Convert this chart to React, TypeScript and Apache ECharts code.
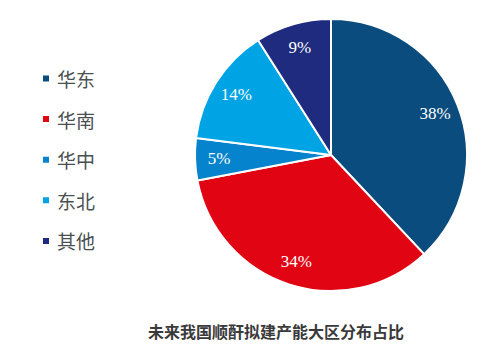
import React, { useEffect, useRef } from "react";
import * as echarts from "echarts";

const categories = ["华东", "华南", "华中", "东北", "其他"];
const shares = [38, 34, 5, 14, 9];
const colors = ["#0A4C7E", "#E10514", "#0583CC", "#00A3E4", "#1E2B7E"];
const title = "未来我国顺酐拟建产能大区分布占比";

export default function App() {
  const ref = useRef<HTMLDivElement>(null);
  useEffect(() => {
    const chart = echarts.init(ref.current!, null, { renderer: "svg" });
    const data = categories.map((name, i) => ({
      name,
      value: shares[i],
      itemStyle: { color: colors[i] },
    }));
    chart.setOption({
      animation: false,
      backgroundColor: "#ffffff",
      title: {
        text: title,
        left: 271,
        textAlign: "center",
        top: 318,
        textStyle: {
          fontSize: 16,
          fontWeight: "bold",
          color: "#3a3a3a",
          fontFamily: "Noto Sans CJK SC",
        },
      },
      legend: {
        orient: "vertical",
        left: 36,
        top: 64,
        itemWidth: 8,
        itemHeight: 8,
        itemGap: 21.6,
        icon: "rect",
        data: categories,
        textStyle: {
          fontSize: 19,
          color: "#4a4f52",
          fontFamily: "Noto Sans CJK SC",
          padding: [0, 0, 0, 2],
        },
      },
      series: [
        {
          type: "pie",
          center: [331, 155],
          radius: [0, 136],
          startAngle: 90,
          clockwise: true,
          label: { show: false },
          labelLine: { show: false },
          itemStyle: { borderColor: "#ffffff", borderWidth: 2 },
          data,
        },
        {
          type: "pie",
          center: [331, 155],
          radius: [80, 138],
          startAngle: 90,
          clockwise: true,
          silent: true,
          itemStyle: { color: "transparent", borderWidth: 0 },
          label: {
            show: true,
            position: "inside",
            formatter: "{c}%",
            color: "#ffffff",
            fontSize: 17,
            fontFamily: "Liberation Serif",
          },
          labelLine: { show: false },
          data: categories.map((name, i) => ({ name, value: shares[i] })),
        },
      ],
    });
    return () => chart.dispose();
  }, []);
  return (
    <div
      ref={ref}
      style={{ position: "absolute", left: 0, top: 0, width: 500, height: 353 }}
    />
  );
}
